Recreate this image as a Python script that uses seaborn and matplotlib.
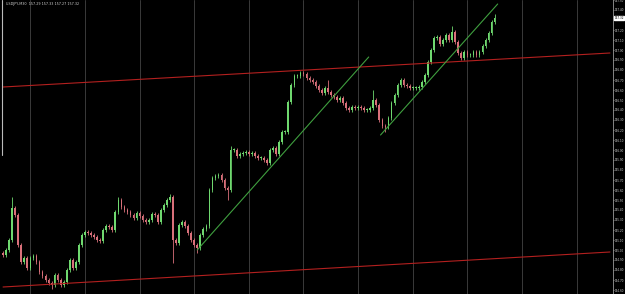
import numpy as np
import pandas as pd
import matplotlib
matplotlib.use("Agg")
import matplotlib.pyplot as plt
import seaborn as sns

# ---------------- data ----------------
closes = [
    154.95, 155.00, 155.10, 155.42, 155.35, 155.05, 154.88, 154.92, 154.82, 154.92,
    154.94, 154.88, 154.78, 154.74, 154.70, 154.67, 154.65, 154.75, 154.70, 154.65,
    154.68, 154.80, 154.90, 154.82, 154.88, 155.05, 155.15, 155.18, 155.17, 155.15,
    155.13, 155.10, 155.09, 155.20, 155.24, 155.23, 155.20, 155.38, 155.50, 155.43,
    155.40, 155.38, 155.35, 155.32, 155.37, 155.34, 155.30, 155.28, 155.30, 155.36,
    155.35, 155.28, 155.40, 155.45, 155.50, 155.53, 155.10, 155.07, 155.25, 155.28,
    155.24, 155.17, 155.10, 155.05, 155.02, 155.15, 155.21, 155.24, 155.60, 155.72,
    155.74, 155.75, 155.70, 155.62, 155.60, 156.00, 156.00, 155.94, 155.96, 155.97,
    155.98, 155.96, 155.97, 155.94, 155.92, 155.92, 155.90, 155.87, 156.00, 156.02,
    155.96, 156.08, 156.18, 156.18, 156.48, 156.65, 156.74, 156.74, 156.77, 156.76,
    156.72, 156.70, 156.68, 156.64, 156.60, 156.57, 156.62, 156.58, 156.55, 156.53,
    156.50, 156.52, 156.47, 156.42, 156.40, 156.43, 156.42, 156.43, 156.42, 156.40,
    156.40, 156.42, 156.50, 156.45, 156.30, 156.24, 156.23, 156.32, 156.47, 156.55,
    156.65, 156.70, 156.65, 156.64, 156.62, 156.62, 156.62, 156.63, 156.68, 156.75,
    156.88, 157.00, 157.12, 157.13, 157.06, 157.10, 157.15, 157.10, 157.18, 157.08,
    156.97, 156.92, 156.98, 156.95, 156.95, 156.98, 156.95, 156.98, 157.04, 157.10,
    157.17, 157.28, 157.32,
]
first_open = 154.97
# notable wick extremes (bar index -> price)
wick_highs = {3: 155.53, 38: 155.53, 55: 155.56, 75: 156.04, 98: 156.79,
              107: 156.70, 122: 156.60, 148: 157.24, 162: 157.36}
wick_lows = {16: 154.61, 56: 154.87, 64: 154.97, 74: 155.50, 126: 156.18}

# channel / trend lines: (bar index, price) endpoints
red_upper = ([0, 200], [156.63, 156.97])
red_lower = ([0, 200], [154.63, 154.98])
green_1 = ([64, 120.5], [155.00, 156.93])
green_2 = ([124.4, 163], [156.15, 157.46])

symbol_text = "USDJPY,M30  157.29 157.33 157.27 157.32"
last_price_label = "157.32"

# ---------------- style ----------------
sns.set_theme(style="dark", rc={"axes.facecolor": "black", "figure.facecolor": "black"})

W, H = 625, 294
fig = plt.figure(figsize=(W / 100, H / 100), dpi=100)
ax = fig.add_axes([0, 0, 613 / W, 1])
ax.set_facecolor("black")

n = len(closes)
idx = np.arange(n)
opens = [first_open] + closes[:-1]
df = pd.DataFrame({"i": idx, "open": opens, "close": closes})
df["top"] = df[["open", "close"]].max(axis=1)
df["bot"] = df[["open", "close"]].min(axis=1)
df["up"] = df["close"] >= df["open"]

up_col = "#6fd86f"
dn_col = "#d9707a"

# vertical session separators
for g in np.arange(9, 200, 18):
    ax.axvline(g, color="#3a3a3a", lw=0.7, zorder=0)

# wicks
for _, r in df.iterrows():
    i = int(r["i"])
    hi = wick_highs.get(i, r["top"] + 0.02)
    lo = wick_lows.get(i, r["bot"] - 0.02)
    col = up_col if r["up"] else dn_col
    ax.vlines(i, lo, hi, color=col, lw=0.6, zorder=2)

# bodies
heights = np.maximum(df["top"] - df["bot"], 0.008)
ax.bar(df["i"], heights, bottom=df["bot"], width=0.55,
       color=[up_col if u else dn_col for u in df["up"]], linewidth=0, zorder=3)

# lines
for (xs, ys), col in [(red_upper, "#b3201f"), (red_lower, "#b3201f"),
                      (green_1, "#3f9f3f"), (green_2, "#3f9f3f")]:
    sns.lineplot(x=xs, y=ys, ax=ax, color=col, lw=0.8, zorder=4)

ax.set_xlim(-1, 201)
ax.set_ylim(154.56, 157.50)
ax.set_xticks([])

# right price axis
ax.yaxis.tick_right()
ticks = np.round(np.arange(154.60, 157.50, 0.10), 2)
ax.set_yticks(ticks)
ax.set_yticklabels([f"{t:.2f}" for t in ticks], fontsize=2.0, color="#cfcfcf")
ax.tick_params(axis="y", length=0.8, width=0.4, color="#cfcfcf", pad=0.3)
for s in ["top", "bottom", "left"]:
    ax.spines[s].set_visible(False)
ax.spines["right"].set_color("#9a9a9a")
ax.spines["right"].set_linewidth(0.6)
ax.grid(False)

# current price label
ax.annotate(last_price_label, xy=(1.0, 157.32), xycoords=("axes fraction", "data"),
            xytext=(1.0, 0), textcoords="offset points", fontsize=2.0, color="black",
            va="center", ha="left",
            bbox=dict(boxstyle="square,pad=0.1", fc="white", ec="white"), annotation_clip=False)

# top-left info
fig.text(6 / W, 1 - 4 / H, symbol_text, fontsize=2.4, color="#d0d0d0", va="center", ha="left")
ax.plot([-0.4, -0.4], [157.50, 155.95], color="#bbbbbb", lw=0.8, zorder=5)

fig.savefig("out.png", dpi=100, facecolor="black")
